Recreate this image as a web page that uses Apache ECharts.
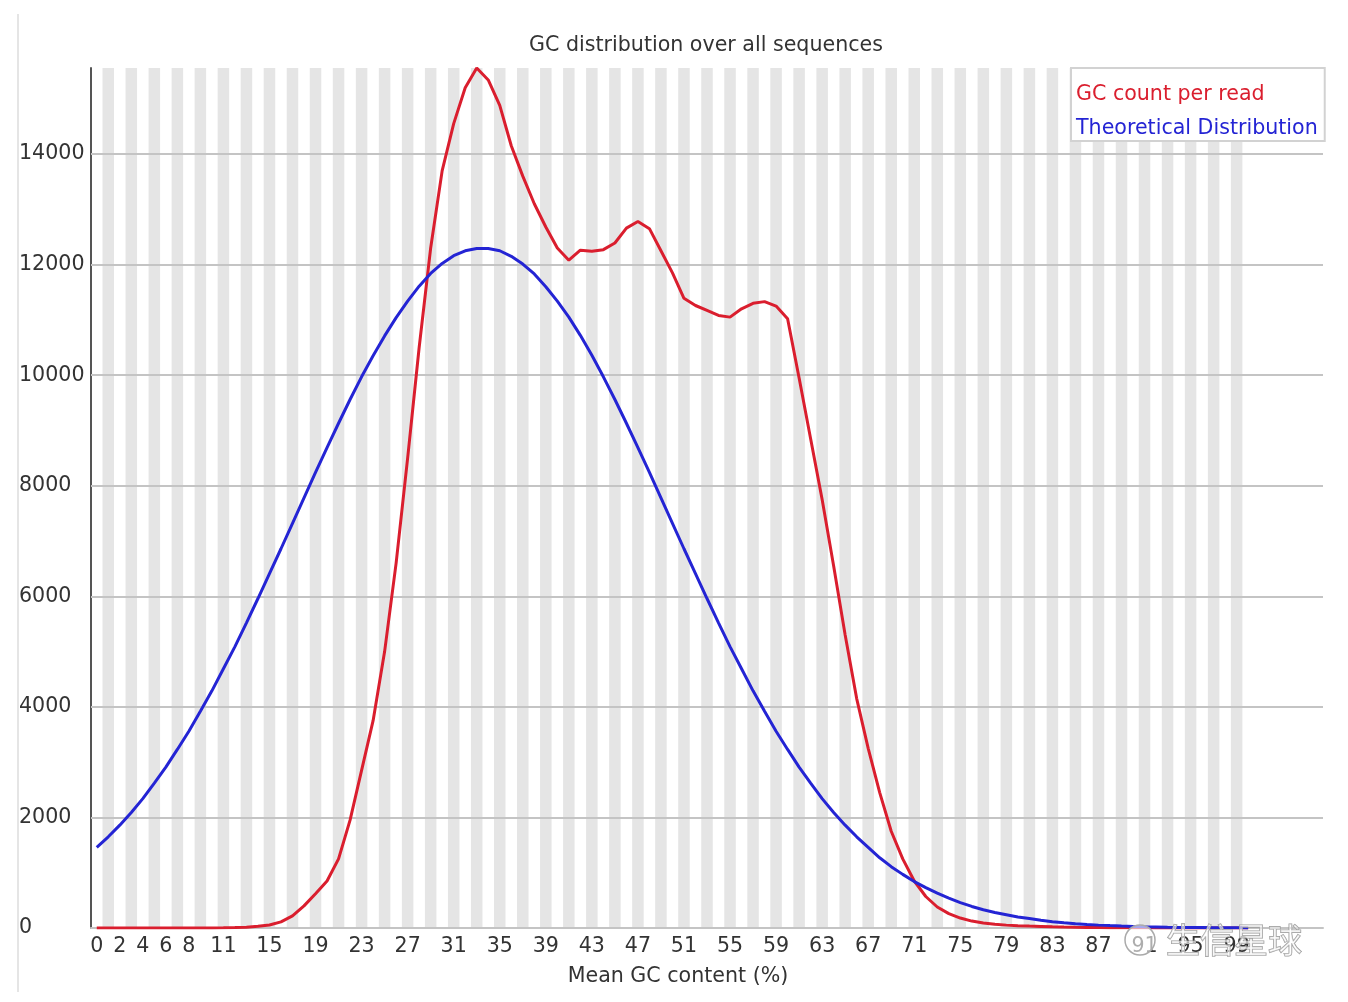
<!DOCTYPE html>
<html>
<head>
<meta charset="utf-8">
<script src="https://cdn.jsdelivr.net/npm/echarts@6/dist/echarts.min.js"></script>
<style>
html,body{margin:0;padding:0;background:#fff;}
#chart{width:1348px;height:1002px;}
</style>
</head>
<body>
<div id="chart"></div>
<script>
// ---- data ----
const categories = Array.from({length: 101}, (_, i) => String(i)); // GC % 0..100
const tickLabels = ['0','2','4','6','8','11','15','19','23','27','31','35','39','43','47','51','55','59','63','67','71','75','79','83','87','91','95','99'];
const gcCount = [
  0,0,0,0,0,0,0,0,0,0,
  2,4,8,15,30,55,110,220,400,620,
  850,1250,1950,2850,3750,5000,6600,8500,10500,12300,
  13700,14550,15200,15556,15340,14880,14150,13600,13100,12680,
  12300,12080,12260,12240,12270,12390,12660,12780,12650,12250,
  11850,11390,11260,11170,11080,11050,11200,11300,11330,11250,
  11020,9950,8850,7750,6550,5300,4150,3250,2450,1750,
  1250,850,570,380,260,180,125,90,68,52,
  42,34,28,22,17,13,10,8,6,5,
  4,3,2,2,1,1,1,0,0,0,
  0
];
const theoretical = [
  1460,1650,1860,2090,2340,2620,2910,3230,3560,3920,
  4290,4690,5090,5520,5960,6410,6860,7320,7780,8240,
  8690,9130,9560,9970,10350,10710,11040,11340,11610,11840,
  12020,12160,12250,12290,12290,12250,12150,12010,11830,11600,
  11340,11050,10720,10360,9970,9560,9130,8690,8240,7780,
  7320,6860,6410,5960,5520,5090,4690,4290,3920,3560,
  3230,2910,2620,2340,2090,1860,1650,1460,1270,1110,
  970,840,730,630,540,460,390,330,280,240,
  200,170,140,115,95,78,64,52,43,35,
  28,22,18,14,11,9,7,5,4,3,
  2
];
const yMax = 15556;
const yTicks = [0,2000,4000,6000,8000,10000,12000,14000];

// ---- chart ----
const FONT = 'DejaVu Sans';
const FS = 20.6;
const RED = '#da1e2e';
const BLUE = '#2424d4';
const axisCats = categories.concat(['', '', '', '', '', '']);
const stripeData = axisCats.map((c, i) => (c !== '' && i % 2 === 1 && i < categories.length - 1) ? yMax : '-');

const chart = echarts.init(document.getElementById('chart'), null, {renderer: 'canvas'});
chart.setOption({
  backgroundColor: '#ffffff',
  animation: false,
  textStyle: {fontFamily: FONT},
  title: {
    text: 'GC distribution over all sequences',
    left: 706, top: 35, textAlign: 'center', padding: 0,
    textStyle: {fontFamily: FONT, fontSize: FS, fontWeight: 'normal', color: '#333'}
  },
  grid: {left: 91, right: 25, top: 68, bottom: 74, containLabel: false},
  legend: {
    orient: 'vertical',
    left: 1071, top: 68,
    icon: 'none', itemWidth: 0, itemHeight: 20, itemGap: 13,
    padding: [16, 7, 2, 0],
    backgroundColor: '#ffffff', borderColor: '#d2d2d2', borderWidth: 2,
    selectedMode: false,
    textStyle: {fontFamily: FONT, fontSize: FS, lineHeight: 20},
    data: [
      {name: 'GC count per read', textStyle: {color: RED}},
      {name: 'Theoretical Distribution', textStyle: {color: BLUE}}
    ]
  },
  xAxis: {
    type: 'category',
    data: axisCats,
    boundaryGap: true,
    axisLine: {show: true, lineStyle: {color: '#c4c4c4', width: 2}},
    axisTick: {show: false},
    splitLine: {show: false},
    axisLabel: {
      interval: (idx, val) => tickLabels.indexOf(val) >= 0,
      margin: 8,
      fontFamily: FONT, fontSize: FS, color: '#333'
    }
  },
  yAxis: {
    type: 'value',
    min: 0, max: yMax, interval: 2000,
    axisLine: {show: true, lineStyle: {color: '#555', width: 2}},
    axisTick: {show: false},
    splitLine: {show: false},
    axisLabel: {
      showMaxLabel: false,
      align: 'left', margin: 72,
      padding: [4, 0, 0, 0],
      fontFamily: FONT, fontSize: FS, color: '#333',
      formatter: v => (yTicks.indexOf(v) >= 0 ? String(v) : '')
    }
  },
  series: [
    {
      name: 'stripes', type: 'bar', data: stripeData,
      barWidth: '100%', barCategoryGap: '0%', silent: true,
      itemStyle: {color: '#e5e5e5'}, z: 1,
      emphasis: {disabled: true},
      markLine: {
        silent: true, symbol: 'none', label: {show: false}, z: 3,
        lineStyle: {color: '#c4c4c4', width: 2, type: 'solid'},
        emphasis: {disabled: true},
        data: yTicks.map(v => ({yAxis: v}))
      }
    },
    {
      name: 'GC count per read', type: 'line', data: gcCount,
      symbol: 'none', smooth: false, z: 6,
      lineStyle: {color: RED, width: 3}, itemStyle: {color: RED}
    },
    {
      name: 'Theoretical Distribution', type: 'line', data: theoretical,
      symbol: 'none', smooth: false, z: 6,
      lineStyle: {color: BLUE, width: 3}, itemStyle: {color: BLUE}
    }
  ],
  graphic: [
    {type: 'line', shape: {x1: 18, y1: 14, x2: 18, y2: 992}, style: {stroke: '#dcdcdc', lineWidth: 1.5}, silent: true},
    {type: 'text', x: 678, y: 977, style: {text: 'Mean GC content (%)', font: FS + 'px "DejaVu Sans"', fill: '#333', textAlign: 'center', textVerticalAlign: 'middle'}},
    {type: 'circle', shape: {cx: 1140, cy: 940, r: 15}, style: {fill: 'rgba(255,255,255,0.6)', stroke: '#aaa', lineWidth: 1.5}, z: 100},
    {type: 'text', x: 1166, y: 940, z: 100, style: {text: '生信星球', font: '34px "Noto Sans CJK SC"', fill: 'rgba(255,255,255,0.55)', stroke: '#9a9a9a', lineWidth: 1.2, textAlign: 'left', textVerticalAlign: 'middle'}}
  ]
});
</script>
</body>
</html>
